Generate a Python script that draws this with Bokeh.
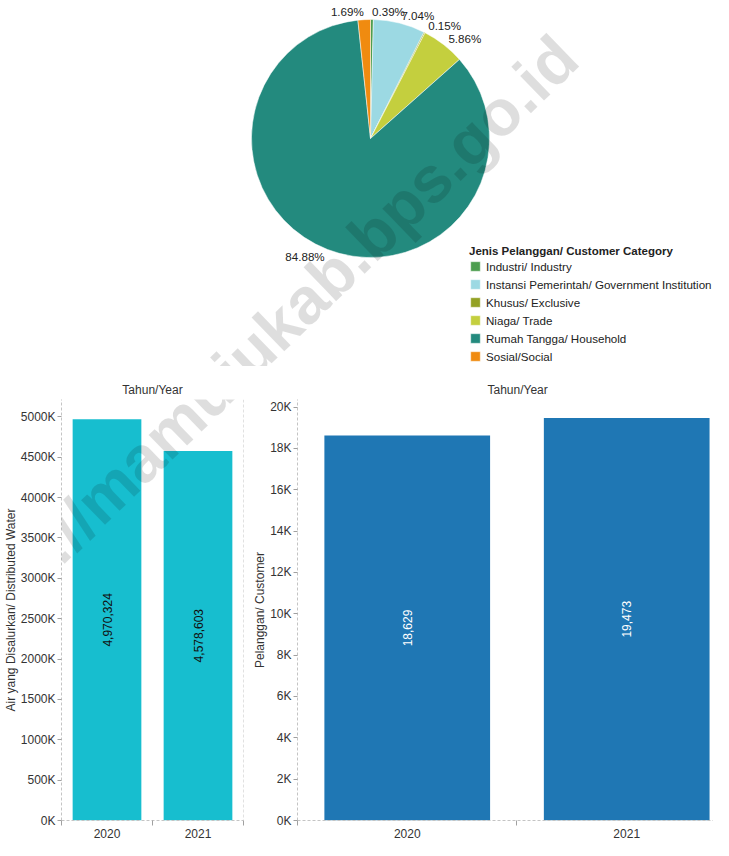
import numpy as np
from bokeh.plotting import figure
from bokeh.models import Range1d, ColumnDataSource, FixedTicker, Span, Label
from bokeh.layouts import column, row
from bokeh.embed import file_html
from bokeh.resources import INLINE
from bokeh.core.properties import value

# ---------------- data ----------------
categories = ["Industri/ Industry",
              "Instansi Pemerintah/ Government Institution",
              "Khusus/ Exclusive",
              "Niaga/ Trade",
              "Rumah Tangga/ Household",
              "Sosial/Social"]
shares = [0.39, 7.04, 0.15, 5.86, 84.88, 1.69]
colors = ["#4d9e4f", "#9cd9e3", "#93a124", "#c4cf3e", "#238a7e", "#f08b10"]
legend_title = "Jenis Pelanggan/ Customer Category"

years = ["2020", "2021"]
water = [4970324, 4578603]
customers = [18629, 19473]

water_ticks = [0, 500000, 1000000, 1500000, 2000000, 2500000, 3000000,
               3500000, 4000000, 4500000, 5000000]
water_tick_labels = ["0K", "500K", "1000K", "1500K", "2000K", "2500K", "3000K",
                     "3500K", "4000K", "4500K", "5000K"]
cust_ticks = [0, 2000, 4000, 6000, 8000, 10000, 12000, 14000, 16000, 18000, 20000]
cust_tick_labels = ["0K", "2K", "4K", "6K", "8K", "10K", "12K", "14K", "16K", "18K", "20K"]

facet_title = "Tahun/Year"
water_axis_title = "Air yang Disalurkan/ Distributed Water"
cust_axis_title = "Pelanggan/ Customer"
watermark = "https://mamujukab.bps.go.id"

# ---------------- style ----------------
FONT = "Liberation Sans"
TXT = "#333333"
AXIS_LINE = "#c4c4c4"
TICK = "#a0a0a0"
WM_ANGLE = np.deg2rad(44)
WM_X, WM_Y = 248, 354          # watermark centre (picture pixels)


def add_watermark(p, x, y):
    p.add_layout(Label(x=x, y=y, text=watermark, angle=WM_ANGLE,
                       text_font=FONT, text_font_size="65px", text_font_style="bold",
                       text_color="black", text_alpha=0.13,
                       text_align="center", text_baseline="middle"))


# ---------------- pie ----------------
PIE_H = 366
pie = figure(width=713, height=PIE_H, x_range=Range1d(0, 713), y_range=Range1d(-PIE_H, 0),
             output_backend="svg", toolbar_location=None, min_border=0,
             x_axis_location=None, y_axis_location=None, outline_line_color=None)
pie.grid.visible = False

frac = np.array(shares) / np.sum(shares)
cum = np.concatenate([[0.0], np.cumsum(frac)])
start = np.pi / 2 - 2 * np.pi * cum[:-1]
end = np.pi / 2 - 2 * np.pi * cum[1:]
mid = (start + end) / 2
cx, cy, R = 370, -138, 119
src = ColumnDataSource(dict(cat=categories, start=start, end=end, color=colors))
pie.wedge(x=cx, y=cy, radius=R, start_angle="start", end_angle="end",
          direction="clock", fill_color="color", line_color="white", line_width=0.5,
          source=src, legend_field="cat")

LR = 127
lx = cx + LR * np.cos(mid)
ly = cy + LR * np.sin(mid)
labels = [f"{s:.2f}%" for s in shares]
right_side = np.cos(mid) >= 0
for side, align in ((right_side, "left"), (~right_side, "right")):
    pie.text(x=lx[side], y=ly[side], text=[l for l, s in zip(labels, side) if s],
             text_align=align, text_baseline="middle", text_font=value(FONT),
             text_font_size="11.6px", text_color="#222222")

lg = pie.legend[0]
lg.location = (469, 3)
lg.title = legend_title
lg.title_text_font = FONT
lg.title_text_font_size = "11.5px"
lg.title_text_font_style = "bold"
lg.title_text_color = "#222222"
lg.title_standoff = 2
lg.label_text_font = FONT
lg.label_text_font_size = "11.6px"
lg.label_text_color = "#222222"
lg.glyph_width = 12
lg.glyph_height = 12
lg.label_height = 14
lg.spacing = 4
lg.label_standoff = 5
lg.padding = 0
lg.margin = 0
lg.border_line_color = None
lg.background_fill_alpha = 0

add_watermark(pie, WM_X, -WM_Y)

# ---------------- bars ----------------
BAR_H = 856 - 16 - PIE_H       # 474
TOP_B, BOT_B = 33, 16
FRAME_H = BAR_H - TOP_B - BOT_B
FRAME_TOP = PIE_H + TOP_B
FRAME_BOT = FRAME_TOP + FRAME_H


def bar_fig(width, min_left, min_right, xend, ymax, vals, color, ticks, tick_labels,
            axis_title, label_color, title_align, title_offset):
    p = figure(width=width, height=BAR_H, x_range=Range1d(0, xend), y_range=Range1d(0, ymax),
               output_backend="svg", toolbar_location=None,
               min_border_left=min_left, min_border_right=min_right,
               min_border_top=TOP_B, min_border_bottom=BOT_B, outline_line_color=None,
               title=facet_title)
    p.grid.visible = False
    p.title.align = title_align
    p.title.text_font = FONT
    p.title.text_font_size = "12px"
    p.title.text_font_style = "normal"
    p.title.text_color = TXT
    p.title.standoff = 5
    p.title.offset = title_offset

    xs = np.arange(len(years)) + 0.5
    p.vbar(x=xs, top=vals, width=0.755, fill_color=color, line_color=None)
    p.text(x=xs, y=np.array(vals) / 2, text=[f"{v:,}" for v in vals], angle=np.pi / 2,
           text_align="center", text_baseline="middle", text_font=value(FONT),
           text_font_size="12px", text_color=label_color)

    xa = p.xaxis[0]
    xa.ticker = FixedTicker(ticks=list(xs), minor_ticks=list(np.arange(len(years) + 1)))
    xa.major_label_overrides = {float(x): y for x, y in zip(xs, years)}
    xa.major_tick_out = 0
    xa.major_tick_in = 0
    xa.minor_tick_out = 5
    xa.minor_tick_in = 0
    xa.minor_tick_line_color = TICK
    xa.axis_line_color = AXIS_LINE
    xa.axis_line_dash = "3 2"
    xa.major_label_standoff = 3
    xa.major_label_text_font = FONT
    xa.major_label_text_font_size = "12px"
    xa.major_label_text_color = TXT

    ya = p.yaxis[0]
    ya.ticker = FixedTicker(ticks=ticks)
    ya.major_label_overrides = {t: l for t, l in zip(ticks, tick_labels)}
    ya.major_tick_out = 4
    ya.major_tick_in = 0
    ya.major_tick_line_color = TICK
    ya.minor_tick_line_color = None
    ya.axis_line_color = AXIS_LINE
    ya.axis_line_dash = "3 2"
    ya.major_label_standoff = 2
    ya.major_label_text_font = FONT
    ya.major_label_text_font_size = "12px"
    ya.major_label_text_color = TXT
    ya.axis_label = axis_title
    ya.axis_label_standoff = 0
    ya.axis_label_text_font = FONT
    ya.axis_label_text_font_size = "12px"
    ya.axis_label_text_font_style = "normal"
    ya.axis_label_text_color = TXT
    return p


W_YMAX = 5215000
C_YMAX = 20370
left = bar_fig(250, 61, 7, 2.0, W_YMAX, water, "#17becf", water_ticks, water_tick_labels,
               water_axis_title, "#111111", "center", 0)
left.add_layout(Span(location=2.0, dimension="height", line_color=AXIS_LINE,
                     line_dash="3 2", line_width=1))
add_watermark(left, (WM_X - 61) / 91, (FRAME_BOT - WM_Y) / FRAME_H * W_YMAX)

right = bar_fig(463, 46, 0, 417 / 220, C_YMAX, customers, "#1f77b4", cust_ticks, cust_tick_labels,
                cust_axis_title, "white", "left", 190)
add_watermark(right, (WM_X - 296) / 220, (FRAME_BOT - WM_Y) / FRAME_H * C_YMAX)

layout = column(pie, row(left, right))
open("out.html", "w").write(file_html(layout, INLINE))
